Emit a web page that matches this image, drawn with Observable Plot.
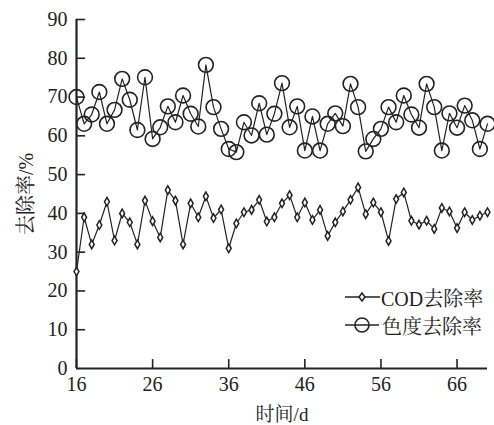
<!DOCTYPE html>
<html>
<head>
<meta charset="utf-8">
<script src="https://cdn.jsdelivr.net/npm/d3@7"></script>
<script src="https://cdn.jsdelivr.net/npm/@observablehq/plot@0.6"></script>
<style>
  html, body { margin: 0; padding: 0; background: #fff; }
  #wrap { position: relative; width: 494px; height: 425px; }
  #legend { position: absolute; left: 345px; top: 283px; font-size: 20px; color: #222; }
  .row { display: flex; align-items: center; height: 28px; }
  .row svg { margin-right: 1px; }
</style>
</head>
<body>
<div id="wrap"><div id="legend"></div></div>
<script>
const days = [16,17,18,19,20,21,22,23,24,25,26,27,28,29,30,31,32,33,34,35,36,37,38,39,40,41,42,43,44,45,46,47,48,49,50,51,52,53,54,55,56,57,58,59,60,61,62,63,64,65,66,67,68,69,70];
const codRemoval = [25,39,32,37,43,33,40,37.7,32,43.3,38,33.8,46,43.3,32,42.6,39,44.4,38.8,41,31,37.4,40.3,40.9,43.5,37.9,39,42.6,44.7,39,42.8,38.3,40.9,34.2,37.7,40.5,43.5,46.7,39.8,42.8,40.3,32.9,43.7,45.4,38.1,37.1,38.1,36,41.4,40.5,36.2,40.3,38.3,39.4,40.3];
const colorRemoval = [70,63.1,65.5,71.3,63.1,66.7,74.7,69.3,61.5,75.1,59.2,62.2,67.6,63.5,70.4,65.7,62.4,78.3,67.4,61.8,56.6,55.8,63.5,60.1,68.4,60.3,65.7,73.6,62.2,67.6,56.2,65,56.2,63.1,65.8,62.5,73.4,67.4,56,59.2,61.8,67.4,63.5,70.4,65.5,62.1,73.4,67.4,56.2,65.8,62.1,67.8,64,56.6,63.1];
const xTicks = [16,26,36,46,56,66];
const yTicks = [0,10,20,30,40,50,60,70,80,90];
const seriesNames = ["COD去除率", "色度去除率"];

const cod = days.map((d, i) => ({day: d, v: codRemoval[i]}));
const col = days.map((d, i) => ({day: d, v: colorRemoval[i]}));
const ink = "#222";
const fam = "Liberation Serif, Noto Serif CJK SC, serif";

const chart = Plot.plot({
  width: 494,
  height: 425,
  marginLeft: 76,
  marginRight: 7,
  marginTop: 19,
  marginBottom: 57,
  style: {fontSize: "20px", color: ink, background: "#fff"},
  x: {domain: [16, 70]},
  y: {domain: [0, 90]},
  marks: [
    Plot.axisX({ticks: xTicks, tickSize: 0, tickPadding: 8, tickFormat: d => String(d), fontSize: 20, label: null}),
    Plot.axisX({ticks: [], tickSize: 0, fontSize: 19, dx: -12,
      label: "时间/d", labelAnchor: "center", labelOffset: 52, labelArrow: "none"}),
    Plot.axisY({ticks: yTicks, tickSize: 0, tickPadding: 9, tickFormat: d => String(d), fontSize: 20,
      label: "去除率/%", labelAnchor: "center", labelOffset: 58, labelArrow: "none"}),
    Plot.ruleX(xTicks, {x: d => d, y1: 0, y2: 2.3, stroke: ink, strokeWidth: 1.6}),
    Plot.ruleY(yTicks.filter(d => d > 0), {y: d => d, x1: 16, x2: 17.2, stroke: ink, strokeWidth: 1.6}),
    Plot.ruleY([0], {stroke: ink, strokeWidth: 2.2}),
    Plot.ruleX([16], {stroke: ink, strokeWidth: 2.2}),
    Plot.line(col, {x: "day", y: "v", stroke: ink, strokeWidth: 1.2}),
    Plot.dot(col, {x: "day", y: "v", r: 7.4, stroke: ink, strokeWidth: 1.6, fill: "none"}),
    Plot.line(cod, {x: "day", y: "v", stroke: ink, strokeWidth: 1.2}),
    Plot.dot(cod, {x: "day", y: "v", symbol: "diamond", r: 2.6, stroke: ink, strokeWidth: 1.5, fill: "#fff"})
  ]
});
chart.style.fontFamily = fam;
chart.querySelectorAll("text, g").forEach(el => { el.setAttribute("font-family", fam); el.style.fontFamily = fam; });
document.getElementById("wrap").prepend(chart);

const legend = document.getElementById("legend");
legend.style.fontFamily = fam;
legend.innerHTML = `
  <div class="row"><svg width="35" height="18"><line x1="0" y1="9" x2="35" y2="9" stroke="${ink}" stroke-width="1.5"/><path d="M17,5 L20,9 L17,13 L14,9 Z" fill="#fff" stroke="${ink}" stroke-width="1.5"/></svg><span>${seriesNames[0]}</span></div>
  <div class="row"><svg width="36" height="18"><line x1="0" y1="9" x2="34" y2="9" stroke="${ink}" stroke-width="1.5"/><circle cx="17" cy="9" r="7" fill="none" stroke="${ink}" stroke-width="1.6"/></svg><span>${seriesNames[1]}</span></div>`;
</script>
</body>
</html>
